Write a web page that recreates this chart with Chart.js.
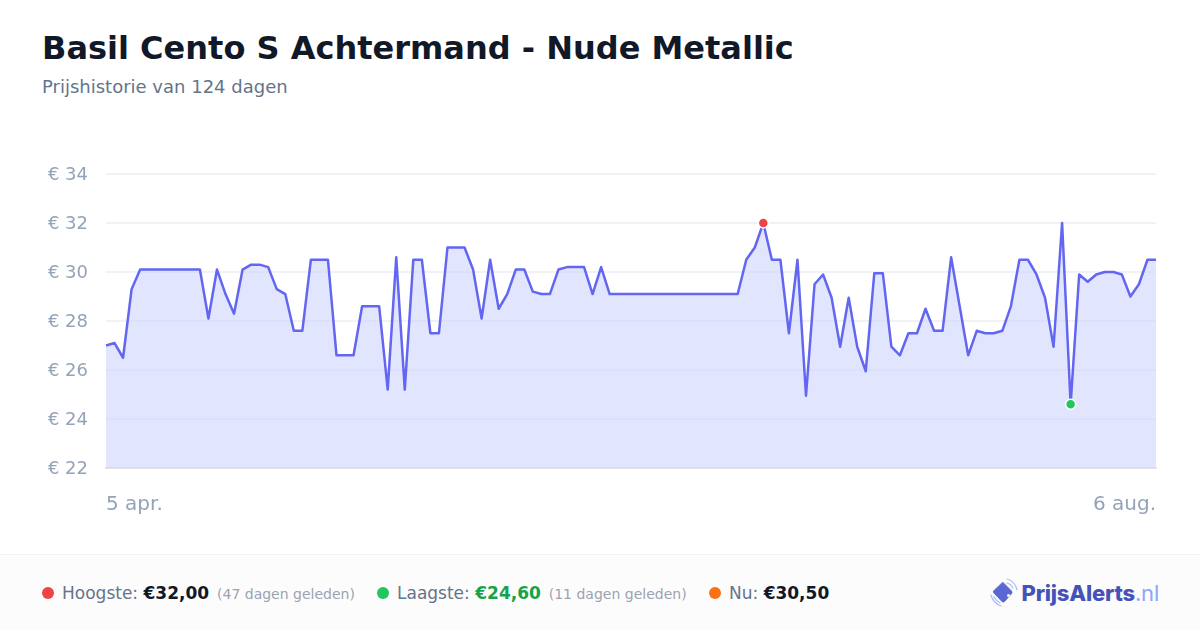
<!DOCTYPE html>
<html lang="nl">
<head>
<meta charset="utf-8">
<title>Basil Cento S Achtermand - Nude Metallic</title>
<script src="https://cdn.jsdelivr.net/npm/chart.js@4"></script>
<style>
  * { margin: 0; padding: 0; box-sizing: border-box; }
  html, body { width: 1200px; height: 630px; background: #fff; overflow: hidden; font-family: "DejaVu Sans", sans-serif; }
  h1 { position: absolute; left: 42px; top: 28px; font-size: 32px; line-height: 40px; font-weight: 700; color: #111827; white-space: nowrap; }
  .sub { position: absolute; left: 42px; top: 76px; font-size: 18px; line-height: 22px; color: #64748b; white-space: nowrap; }
  #box { position: absolute; left: 40px; top: 130px; width: 1133px; height: 400px; }
  .footer { position: absolute; left: 0; top: 554px; width: 1200px; height: 76px; background: #fcfcfd; border-top: 1px solid #f1f1f3; }
  .stat { position: absolute; top: 0; height: 76px; line-height: 76px; font-size: 17px; color: #64748b; white-space: nowrap; }
  .stat i { position: absolute; left: -20px; top: 32px; width: 12px; height: 12px; border-radius: 50%; }
  .stat b { color: #111827; font-size: 17px; }
  .stat small { color: #9ca3af; font-size: 14px; margin-left: 2.5px; }
  .logo { position: absolute; left: 990px; top: 23px; height: 30px; }
  .logo span { position: absolute; left: 31.5px; top: 0; line-height: 30px; font-family: Inter, sans-serif; font-size: 22px; font-weight: 800; letter-spacing: -0.2px; color: #4553b8; white-space: nowrap; }
  .logo span em { font-style: normal; font-weight: 400; color: #8ea6f4; }
</style>
</head>
<body>
<h1>Basil Cento S Achtermand - Nude Metallic</h1>
<div class="sub">Prijshistorie van 124 dagen</div>
<div id="box"><canvas id="priceChart"></canvas></div>
<div class="footer">
  <div class="stat" style="left:62px"><i style="background:#ef4444"></i>Hoogste: <b>€32,00</b> <small>(47 dagen geleden)</small></div>
  <div class="stat" style="left:397px"><i style="background:#22c55e"></i>Laagste: <b style="color:#16a34a">€24,60</b> <small>(11 dagen geleden)</small></div>
  <div class="stat" style="left:729px"><i style="background:#f97316"></i>Nu: <b>€30,50</b></div>
  <div class="logo">
    <svg width="30" height="30" viewBox="0 0 30 30" fill="none" stroke-linecap="round">
      <path d="M13 4.5 L21.5 13 L22 15 L14.5 23.5 Q13 24.5 12 23.5 L3.5 14.5 Q3 13.5 4 12.5 Z" fill="#5a68d4" stroke="#5a68d4" stroke-linejoin="round"/>
      <circle cx="18.5" cy="17.5" r="1.4" fill="#fff"/>
      <path d="M17 1 Q25 3 27 12" stroke="#a9bcf7" stroke-width="1.2"/>
      <path d="M17 5 Q21 6 23 10" stroke="#a9bcf7" stroke-width="1.2"/>
      <path d="M1 17 Q3 25 11 28" stroke="#a9bcf7" stroke-width="1.2"/>
      <path d="M4 19 Q6 23 10 25" stroke="#a9bcf7" stroke-width="1.2"/>
    </svg>
    <span>PrijsAlerts<em>.nl</em></span>
  </div>
</div>
<script>
// one value per day
var prices = [
  27, 27.1, 26.5, 29.3, 30.1, 30.1, 30.1, 30.1, 30.1, 30.1,
  30.1, 30.1, 28.1, 30.1, 29.1, 28.3, 30.1, 30.3, 30.3, 30.2,
  29.3, 29.1, 27.6, 27.6, 30.5, 30.5, 30.5, 26.6, 26.6, 26.6,
  28.6, 28.6, 28.6, 25.2, 30.6, 25.2, 30.5, 30.5, 27.5, 27.5,
  31, 31, 31, 30.1, 28.1, 30.5, 28.5, 29.1, 30.1, 30.1,
  29.2, 29.1, 29.1, 30.1, 30.2, 30.2, 30.2, 29.1, 30.2, 29.1,
  29.1, 29.1, 29.1, 29.1, 29.1, 29.1, 29.1, 29.1, 29.1, 29.1,
  29.1, 29.1, 29.1, 29.1, 29.1, 30.5, 31, 32, 30.5, 30.5,
  27.5, 30.5, 24.95, 29.5, 29.9, 28.95, 26.95, 28.95, 26.95, 25.95,
  29.95, 29.95, 26.95, 26.6, 27.5, 27.5, 28.5, 27.6, 27.6, 30.6,
  28.6, 26.6, 27.6, 27.5, 27.5, 27.6, 28.6, 30.5, 30.5, 29.9,
  28.95, 26.95, 32, 24.6, 29.9, 29.6, 29.9, 30, 30, 29.9,
  29, 29.5, 30.5, 30.5
];
var firstLabel = "5 apr.";
var lastLabel = "6 aug.";
var yMin = 22;
var yMax = 34;
var yStep = 2;

// only the two ends of the axis carry a date
var days = prices.map(function (p, i) {
  if (i === 0) return firstLabel;
  if (i === prices.length - 1) return lastLabel;
  return "";
});

var high = prices.indexOf(Math.max.apply(null, prices));
var low = prices.indexOf(Math.min.apply(null, prices));

function dotColor(ctx) {
  if (ctx.dataIndex === high) return "#ef4444";
  if (ctx.dataIndex === low) return "#22c55e";
  return "transparent";
}

new Chart(document.getElementById("priceChart"), {
  type: "line",
  data: {
    labels: days,
    datasets: [{
      data: prices,
      borderColor: "#6366f1",
      borderWidth: 2.5,
      backgroundColor: "rgba(205,214,253,0.6)",
      fill: true,
      tension: 0,
      borderJoinStyle: "round",
      pointRadius: function (ctx) { return (ctx.dataIndex === high || ctx.dataIndex === low) ? 5 : 0; },
      pointBackgroundColor: dotColor,
      pointBorderColor: "#fff",
      pointBorderWidth: 1.5
    }]
  },
  options: {
    responsive: true,
    maintainAspectRatio: false,
    animation: false,
    layout: { padding: { top: 44, left: 0, right: 0, bottom: 0 } },
    plugins: { legend: { display: false }, tooltip: { enabled: false } },
    scales: {
      x: {
        offset: false,
        afterFit: function (s) { s.height = 62; },
        grid: { display: false },
        border: { display: true, color: "#e2e3ee", width: 2 },
        ticks: {
          autoSkip: false,
          maxRotation: 0,
          align: "inner",
          padding: 17,
          color: "#94a3b8",
          font: { family: "DejaVu Sans", size: 20 }
        }
      },
      y: {
        min: yMin,
        max: yMax,
        afterFit: function (s) { s.width = 66; },
        grid: { color: "#f1f2f6", lineWidth: 2, drawTicks: false },
        border: { display: false },
        ticks: {
          stepSize: yStep,
          padding: 18,
          labelOffset: 1,
          color: "#94a3b8",
          font: { family: "DejaVu Sans", size: 18 },
          callback: function (v) { return "€ " + v; }
        }
      }
    }
  }
});
</script>
</body>
</html>
